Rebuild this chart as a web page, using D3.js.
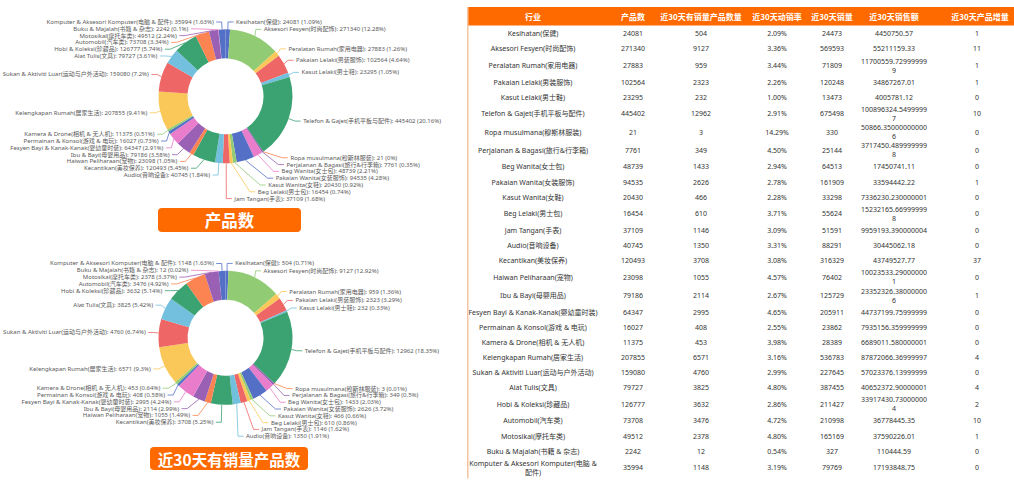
<!DOCTYPE html>
<html><head><meta charset="utf-8">
<script src="https://cdn.jsdelivr.net/npm/d3@7"></script>
<style>
body{margin:0;background:#fff;}
svg{display:block;font-family:"Noto Sans","Noto Sans CJK SC",sans-serif;}
</style>
</head><body>
<svg id="c" width="1014" height="490"></svg>
<script>
// ---------------- DATA ----------------
const categories = ["Kesihatan(保健)","Aksesori Fesyen(时尚配饰)","Peralatan Rumah(家用电器)","Pakaian Lelaki(男装服饰)","Kasut Lelaki(男士鞋)","Telefon & Gajet(手机平板与配件)","Ropa musulmana(穆斯林服装)","Perjalanan & Bagasi(旅行&行李箱)","Beg Wanita(女士包)","Pakaian Wanita(女装服饰)","Kasut Wanita(女鞋)","Beg Lelaki(男士包)","Jam Tangan(手表)","Audio(音响设备)","Kecantikan(美妆保养)","Haiwan Peliharaan(宠物)","Ibu & Bayi(母婴用品)","Fesyen Bayi & Kanak-Kanak(婴幼童时装)","Permainan & Konsol(游戏 & 电玩)","Kamera & Drone(相机 & 无人机)","Kelengkapan Rumah(居家生活)","Sukan & Aktiviti Luar(运动与户外活动)","Alat Tulis(文具)","Hobi & Koleksi(珍藏品)","Automobil(汽车类)","Motosikal(摩托车类)","Buku & Majalah(书籍 & 杂志)","Komputer & Aksesori Komputer(电脑 & 配件)"];
const productCount = [24081,271340,27883,102564,23295,445402,21,7761,48739,94535,20430,16454,37109,40745,120493,23098,79186,64347,16027,11375,207855,159080,79727,126777,73708,49512,2242,35994];
const soldCount = [504,9127,959,2323,232,12962,3,349,1433,2626,466,610,1146,1350,3708,1055,2114,2995,408,453,6571,4760,3825,3632,3476,2378,12,1148];
const sellRate = ["2.09%","3.36%","3.44%","2.26%","1.00%","2.91%","14.29%","4.50%","2.94%","2.78%","2.28%","3.71%","3.09%","3.31%","3.08%","4.57%","2.67%","4.65%","2.55%","3.98%","3.16%","2.99%","4.80%","2.86%","4.72%","4.80%","0.54%","3.19%"];
const sales30 = [24473,569593,71809,120248,13473,675498,330,25144,64513,161909,33298,55624,51591,88291,316329,76402,125729,205911,23862,28389,536783,227645,387455,211427,210998,165169,327,79769];
const revenue30 = ["4450750.57","55211159.33","11700559.729999999","34867267.01","4005781.12","100896324.54999997","50866.350000000006","3717450.4899999998","17450741.11","33594442.22","7336230.230000001","15232165.669999998","9959193.390000004","30445062.18","43749527.77","10023533.290000001","23352326.380000006","44737199.75999999","7935156.359999999","6689011.580000001","87872066.36999997","57023376.13999999","40652372.90000001","33917430.730000004","36778445.35","37590226.01","110444.59","17193848.75"];
const newProducts = [1,11,1,1,0,10,0,0,0,1,0,0,0,0,37,0,1,0,0,0,4,0,4,2,10,1,0,0];
const headers = ["行业","产品数","近30天有销量产品数量","近30天动销率","近30天销量","近30天销售额","近30天产品增量"];
const chartTitles = ["产品数","近30天有销量产品数"];

// ---------------- STYLE ----------------
const palette = ['#5470c6','#91cc75','#fac858','#ee6666','#73c0de','#3ba272','#fc8452','#9a60b4','#ea7ccc'];
const ORANGE = "#ff6a00";
const svg = d3.select("#c");

// measuring helper
const meas = svg.append("text").attr("x",-1000).attr("y",-1000);
function textW(t, size, weight){
  meas.attr("font-size",size).attr("font-weight",weight||"normal").text(t);
  return meas.node().getComputedTextLength();
}

// ECharts-like percent with precision
function percents(values, precision){
  const sum = d3.sum(values), digits = Math.pow(10,precision);
  const vq = values.map(v=>v/sum*digits*100);
  const target = digits*100;
  const seats = vq.map(Math.floor);
  let cur = d3.sum(seats);
  const rem = vq.map((v,i)=>v-seats[i]);
  while(cur<target){
    let max=-Infinity, id=0;
    rem.forEach((r,i)=>{if(r>max){max=r;id=i;}});
    seats[id]++; rem[id]=0; cur++;
  }
  return seats.map(s=>+(s/digits).toFixed(precision));
}

// ---------------- DONUT ----------------
function drawDonut(values, cx, cy, viewTop, viewBottom){
  const R_OUT=67, R_IN=38, LEN1=7.4, LEN2=5.5, DIST=2.5, LH=6.8, FS=6.0;
  const g = svg.append("g");
  const pie = d3.pie().sort(null).value(d=>d);
  const arcs = pie(values);
  const arc = d3.arc().innerRadius(R_IN).outerRadius(R_OUT);
  g.append("g").attr("transform",`translate(${cx},${cy})`)
    .selectAll("path").data(arcs).join("path")
    .attr("d",arc).attr("fill",(d,i)=>palette[i%palette.length]);

  const pct = percents(values,2);
  const layouts = arcs.map((a,i)=>{
    const m=(a.startAngle+a.endAngle)/2;
    const dx=Math.sin(m), dy=-Math.cos(m);
    const x1=cx+R_OUT*dx, y1=cy+R_OUT*dy;
    const x2=x1+LEN1*dx, y2=y1+LEN1*dy;
    const dir=dx<0?-1:1;
    const x3=x2+dir*LEN2;
    return {i,dir,text:`${categories[i]}: ${values[i]} (${pct[i]}%)`,
      label:{x:x3+dir*DIST,y:y2}, rect:{y:y2-LH/2,height:LH},
      line:[[x1,y1],[x2,y2],[x3,y2]]};
  });

  function shiftLayout(list, minBound, maxBound){
    const len=list.length; if(len<2) return false;
    list.sort((a,b)=>a.rect.y-b.rect.y);
    let lastPos=0, adjusted=false;
    for(let i=0;i<len;i++){
      const it=list[i]; const delta=it.rect.y-lastPos;
      if(delta<0){ it.rect.y-=delta; it.label.y-=delta; adjusted=true; }
      lastPos=it.rect.y+it.rect.height;
    }
    const first=list[0], last=list[len-1];
    let minGap,maxGap;
    function upd(){ minGap=first.rect.y-minBound; maxGap=maxBound-last.rect.y-last.rect.height; }
    function shiftList(delta,start,end){
      if(delta!==0) adjusted=true;
      for(let i=start;i<end;i++){ list[i].rect.y+=delta; list[i].label.y+=delta; }
    }
    function squeezeGaps(delta,maxP){
      const gaps=[]; let total=0;
      for(let i=1;i<len;i++){
        const p=list[i-1].rect;
        const gap=Math.max(list[i].rect.y-p.y-p.height,0);
        gaps.push(gap); total+=gap;
      }
      if(!total) return;
      const sp=Math.min(Math.abs(delta)/total,maxP);
      if(delta>0){ for(let i=0;i<len-1;i++) shiftList(gaps[i]*sp,0,i+1); }
      else { for(let i=len-1;i>0;i--) shiftList(-gaps[i-1]*sp,i,len); }
    }
    function takeBoundsGap(gThis,gOther,moveDir){
      if(gThis<0){
        const mv=Math.min(gOther,-gThis);
        if(mv>0){ shiftList(mv*moveDir,0,len); const r=mv+gThis; if(r<0) squeezeGaps(-r*moveDir,1); }
        else squeezeGaps(-gThis*moveDir,1);
      }
    }
    function bail(delta){
      const d=delta<0?-1:1; delta=Math.abs(delta);
      const each=Math.ceil(delta/(len-1));
      for(let i=0;i<len-1;i++){
        if(d>0) shiftList(each,0,i+1); else shiftList(-each,len-i-1,len);
        delta-=each; if(delta<=0) return;
      }
    }
    upd();
    if(minGap<0) squeezeGaps(-minGap,0.8);
    if(maxGap<0) squeezeGaps(maxGap,0.8);
    upd();
    takeBoundsGap(minGap,maxGap,1);
    takeBoundsGap(maxGap,minGap,-1);
    upd();
    if(minGap<0) bail(-minGap);
    if(maxGap<0) bail(maxGap);
    return adjusted;
  }
  function recalcX(items,dir){
    const rA=R_OUT+LEN1;
    const top={list:[],maxY:0}, bot={list:[],maxY:0};
    items.forEach(it=>{
      const semi=it.label.y>cy?bot:top;
      const dy=Math.abs(it.label.y-cy);
      if(dy>=semi.maxY){
        const dx=it.label.x-cx-LEN2*dir;
        semi.rB=Math.abs(dx)<rA?Math.sqrt(dy*dy/(1-dx*dx/rA/rA)):rA;
        semi.maxY=dy;
      }
      semi.list.push(it);
    });
    [top,bot].forEach(semi=>{
      semi.list.forEach(it=>{
        const dy=Math.abs(it.label.y-cy);
        const ddx=Math.sqrt(Math.max(0,1-dy*dy/(semi.rB*semi.rB))*rA*rA);
        it.label.x=cx+(ddx+LEN2)*dir;
      });
    });
  }
  const left=layouts.filter(l=>l.label.x<cx), right=layouts.filter(l=>l.label.x>=cx);
  [[right,1],[left,-1]].forEach(([list,dir])=>{
    if(list.length<2) return;
    if(shiftLayout(list,viewTop,viewBottom)) recalcX(list,dir);
  });
  layouts.forEach(l=>{
    const lp=l.line; const d=lp[1][0]-lp[2][0];
    lp[2][0]= l.label.x<cx ? l.label.x+DIST : l.label.x-DIST;
    lp[1][0]=lp[2][0]+d;
    lp[1][1]=lp[2][1]=l.label.y;
  });
  g.append("g").selectAll("polyline").data(layouts).join("polyline")
    .attr("points",d=>d.line.map(p=>p.join(",")).join(" "))
    .attr("fill","none").attr("stroke",d=>palette[d.i%palette.length]).attr("stroke-width",0.8);
  g.append("g").selectAll("text").data(layouts).join("text")
    .attr("x",d=>d.label.x).attr("y",d=>d.label.y)
    .attr("text-anchor",d=>d.dir<0?"end":"start")
    .attr("dominant-baseline","central")
    .attr("font-size",FS).attr("fill","#5a5a5a")
    .text(d=>d.text);
}

function banner(text, x0, x1, y0, h, fs){
  svg.append("rect").attr("x",x0).attr("y",y0).attr("width",x1-x0).attr("height",h)
    .attr("rx",4).attr("fill",ORANGE);
  svg.append("text").attr("x",(x0+x1)/2).attr("y",y0+h/2)
    .attr("text-anchor","middle").attr("dominant-baseline","central")
    .attr("font-family","'Noto Sans CJK SC',sans-serif").attr("font-weight","bold")
    .attr("font-size",fs).attr("fill","#fff").text(text);
}

drawDonut(productCount, 225.5, 96.3, 0, 210);
banner(chartTitles[0], 158, 301, 208, 24, 16.5);
drawDonut(soldCount, 225.5, 337.8, 241.5, 451.5);
banner(chartTitles[1], 150, 308, 447, 23, 15.5);

// ---------------- TABLE ----------------
const T_X0 = 467, T_TOP = 7, HEAD_H = 18.5;
const colX = [533, 633, 701, 777, 832, 894, 977];
const headX = [533, 633, 701, 777, 832, 894, 980];
const BFS = 7, HFS = 8;
const colData = [categories, productCount, soldCount, sellRate, sales30, revenue30, newProducts];

svg.append("rect").attr("x",T_X0).attr("y",T_TOP).attr("width",1014-T_X0).attr("height",HEAD_H).attr("fill",ORANGE);
svg.append("g").selectAll("text").data(headers).join("text")
  .attr("x",(d,i)=>headX[i]).attr("y",T_TOP+HEAD_H/2)
  .attr("text-anchor","middle").attr("dominant-baseline","central")
  .attr("font-size",HFS).attr("font-weight","bold").attr("fill","#fff")
  .attr("font-family","'Noto Sans CJK SC',sans-serif")
  .text(d=>d);

// wrapping helpers
const nameLimit = textW("Fesyen Bayi & Kanak-Kanak(婴幼童时装)", BFS) + 2;
const numLimit = textW("0000000000000000.", BFS) + 1;
function wrapWords(t, limit){
  const words=t.split(" "); const lines=[]; let cur="";
  words.forEach(w=>{
    const tryS = cur? cur+" "+w : w;
    if(textW(tryS,BFS)<=limit || !cur) cur=tryS;
    else { lines.push(cur); cur=w; }
  });
  if(cur) lines.push(cur);
  return lines;
}
function wrapChars(t, limit){
  const lines=[]; let cur="";
  for(const ch of t){
    if(cur && textW(cur+ch,BFS)>limit){ lines.push(cur); cur=ch; }
    else cur+=ch;
  }
  if(cur) lines.push(cur);
  return lines;
}
let yCur = T_TOP + HEAD_H + 0.2;
const rows = categories.map((c,r)=>{
  const cells = colData.map((col,k)=>{
    const v = String(col[r]);
    if(k===0) return wrapWords(v,nameLimit);
    if(k===5) return wrapChars(v,numLimit);
    return [v];
  });
  const n = d3.max(cells,c=>c.length);
  const h = n>1 ? 18.2 : 15.1;
  const row = {cells, y:yCur + h/2};
  yCur += h;
  return row;
});
const rowG = svg.append("g").attr("font-size",BFS).attr("fill","#333");
rows.forEach(row=>{
  row.cells.forEach((lines,k)=>{
    const t = rowG.append("text").attr("text-anchor","middle").attr("dominant-baseline","central");
    lines.forEach((ln,j)=>{
      t.append("tspan").attr("x",colX[k]).attr("y",row.y + (j-(lines.length-1)/2)*9).text(ln);
    });
  });
});
svg.append("line").attr("x1",T_X0+0.75).attr("x2",T_X0+0.75).attr("y1",T_TOP).attr("y2",yCur+2)
  .attr("stroke","#f5c4a0").attr("stroke-width",1.5);
meas.remove();
</script>
</body></html>
